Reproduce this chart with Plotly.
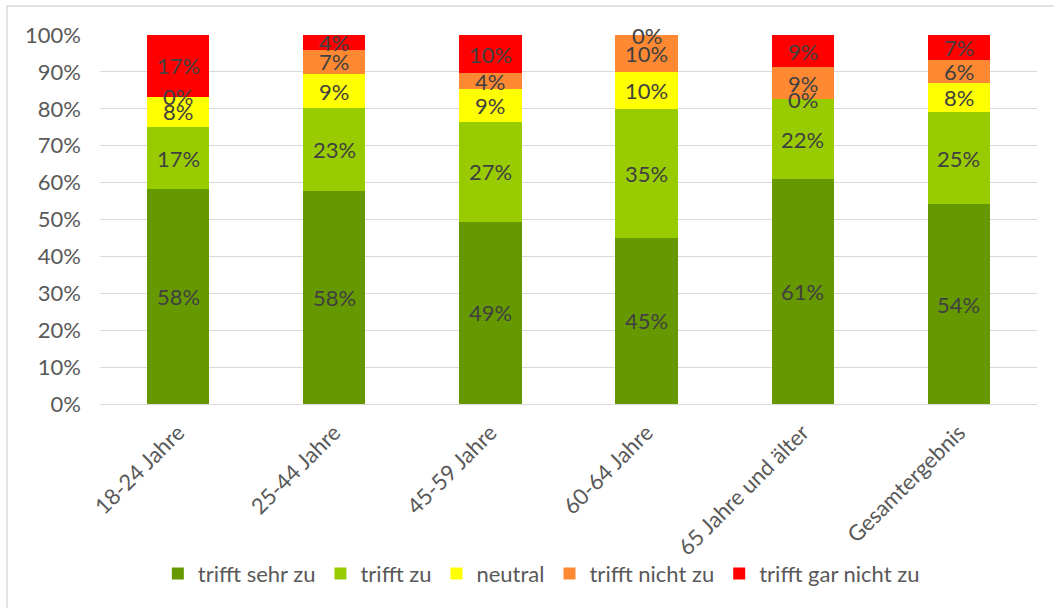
import plotly.graph_objects as go

categories = ["18-24 Jahre", "25-44 Jahre", "45-59 Jahre", "60-64 Jahre",
              "65 Jahre und älter", "Gesamtergebnis"]

# shares in percent per answer
trifft_sehr_zu = [58.3, 57.6, 49.4, 45.0, 60.9, 54.2]
trifft_zu = [16.7, 22.6, 27.0, 35.0, 21.7, 24.8]
neutral = [8.3, 9.2, 8.9, 10.0, 0.0, 8.0]
trifft_nicht_zu = [0.0, 6.6, 4.4, 10.0, 8.7, 6.2]
trifft_gar_nicht_zu = [16.7, 4.0, 10.3, 0.0, 8.7, 6.8]

series = [
    ("trifft sehr zu", trifft_sehr_zu, "#669900"),
    ("trifft zu", trifft_zu, "#99CC00"),
    ("neutral", neutral, "#FFFF00"),
    ("trifft nicht zu", trifft_nicht_zu, "#FF8933"),
    ("trifft gar nicht zu", trifft_gar_nicht_zu, "#FF0000"),
]

y_ticks = list(range(0, 101, 10))

FONT = "Lato, Open Sans, sans-serif"
SIZE = 22

fig = go.Figure()
bottoms = [0.0] * len(categories)
for name, vals, color in series:
    fig.add_trace(go.Bar(
        name=name, x=categories, y=vals, marker_color=color,
        marker_line_width=0, width=0.4,
    ))
    # value labels centred on each segment
    for i, (c, v) in enumerate(zip(categories, vals)):
        fig.add_annotation(
            x=c, y=bottoms[i] + v / 2, text=f"{v:.0f}%", showarrow=False,
            font=dict(family=FONT, size=SIZE, color="#404040"),
            xref="x", yref="y",
        )
        bottoms[i] += v

fig.update_layout(
    barmode="stack",
    width=1054, height=608,
    margin=dict(l=100, r=17, t=35, b=204),
    paper_bgcolor="white", plot_bgcolor="white",
    font=dict(family=FONT, size=SIZE, color="#595959"),
    legend=dict(orientation="h", x=0.471, xanchor="center", y=-0.46,
                yanchor="middle", font=dict(size=SIZE, color="#595959"),
                bgcolor="rgba(0,0,0,0)",
                traceorder="normal", itemwidth=30),
    showlegend=True,
)
fig.update_xaxes(tickangle=-45, showline=True, linecolor="#D9D9D9",
                 linewidth=1, ticks="", ticklabelstandoff=6,
                 tickfont=dict(size=SIZE, color="#595959"))
fig.update_yaxes(range=[0, 100], tickvals=y_ticks,
                 ticktext=[f"{t}%" for t in y_ticks],
                 showgrid=True, gridcolor="#D9D9D9", gridwidth=1,
                 zeroline=False, ticks="", ticklabelstandoff=18,
                 tickfont=dict(size=SIZE, color="#595959"))
# thin frame around the chart
fig.add_shape(type="rect", xref="paper", yref="paper",
              x0=(7 - 100) / 937, x1=1.05, y0=-0.6, y1=(404 - 6) / 369,
              line=dict(color="#D9D9D9", width=1.5), layer="below")

fig.write_html("out.html")
